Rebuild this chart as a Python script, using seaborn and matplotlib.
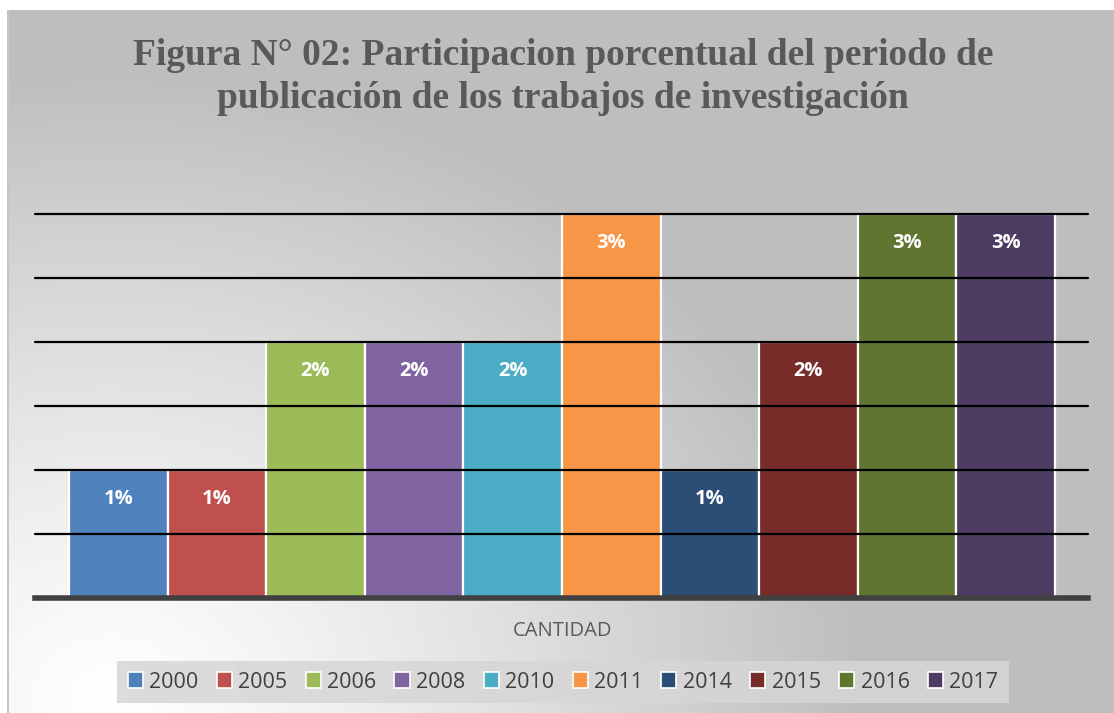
import numpy as np
import matplotlib
matplotlib.use("Agg")
import matplotlib.pyplot as plt
from matplotlib.patches import Patch
import seaborn as sns

# data
years = ["2000", "2005", "2006", "2008", "2010", "2011", "2014", "2015", "2016", "2017"]
percent = [1, 1, 2, 2, 2, 3, 1, 2, 3, 3]
colors = ["#4F81BD", "#C0504D", "#9BBB59", "#8064A2", "#4BACC6",
          "#F79646", "#2C4D75", "#772C2A", "#5F7530", "#4D3B62"]
title = "Figura N° 02: Participacion porcentual del periodo de\npublicación de los trabajos de investigación"

sns.set_theme(style="white")
plt.rcParams["font.family"] = ["Open Sans", "DejaVu Sans"]

W, H = 1114, 713
fig = plt.figure(figsize=(W / 100, H / 100), dpi=100)

# background: grey with a light radial glow in the lower left corner
bg = fig.add_axes([0, 0, 1, 1], zorder=-10)
yy, xx = np.mgrid[0:H, 0:W]
d = np.sqrt(((xx - 110) / 1.2) ** 2 + (yy - 700) ** 2)
t = np.clip(d / 620, 0, 1) ** 1.2
val = 1.0 * (1 - t) + 0.749 * t
img = np.dstack([val, val, val])
img[:10, :] = 1.0
img[:, :8] = 1.0
img[10:, 7:9] = 0.78
bg.imshow(img, extent=(0, W, H, 0), aspect="auto", interpolation="bilinear")
bg.set_xlim(0, W)
bg.set_ylim(H, 0)
bg.axis("off")

ax = fig.add_axes([35 / W, 1 - 598 / H, 1053 / W, 384 / H])
ax.patch.set_alpha(0)

sns.barplot(x=years, y=percent, hue=years, palette=colors, legend=False,
            width=1.0, edgecolor="white", linewidth=1.6, saturation=1, ax=ax)

bw = 98.6
ax.set_xlim(-0.5 - 34 / bw, 9.5 + 33 / bw)
ax.set_ylim(0, 3)
ax.set_yticks(np.arange(0.5, 3.01, 0.5))
ax.set_yticklabels([])
ax.tick_params(left=False, bottom=False, labelbottom=False)
ax.grid(axis="y", color="black", linewidth=1.6)
ax.set_axisbelow(False)
for g in ax.get_ygridlines():
    g.set_clip_on(False)
for s in ["left", "right", "top"]:
    ax.spines[s].set_visible(False)
ax.spines["bottom"].set_color("#404040")
ax.spines["bottom"].set_linewidth(4)
ax.set_xlabel("")
ax.set_ylabel("")

for i, v in enumerate(percent):
    ax.annotate(f"{v}%", (i, v), xytext=(0, -29 * 0.72), textcoords="offset points",
                ha="center", va="center", color="white", fontsize=14.5,
                fontweight="bold")

fig.text(563 / W, 1 - 631 / H, "CANTIDAD", ha="center", va="center",
         fontsize=14.5, color="#595959")

fig.text(563 / W, 1 - 77 / H, title, ha="center", va="center",
         fontsize=27, fontweight="bold", color="#595959",
         family=["Liberation Serif", "DejaVu Serif"], linespacing=1.3)

handles = [Patch(facecolor=c, edgecolor="white", linewidth=1.2) for c in colors]
leg = fig.legend(handles, years, loc="center", bbox_to_anchor=(563 / W, 1 - 682 / H),
                 ncol=10, frameon=True, fontsize=15.5, handlelength=0.7,
                 handleheight=0.7, handletextpad=0.3, columnspacing=0.85,
                 borderpad=0.5, fancybox=False)
leg.get_frame().set_facecolor("#D6D6D6")
leg.get_frame().set_edgecolor("none")
leg.get_frame().set_alpha(0.85)
for txt in leg.get_texts():
    txt.set_color("#404040")

fig.savefig("out.png", dpi=100)
